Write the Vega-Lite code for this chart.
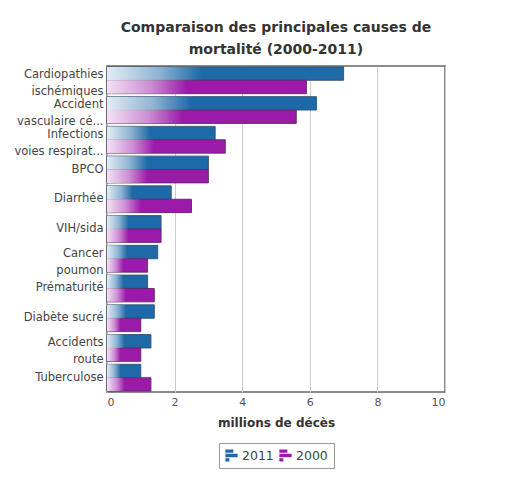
{
  "$schema": "https://vega.github.io/schema/vega-lite/v6.json",
  "width": 338,
  "height": 326,
  "padding": {"left": 13, "top": 21, "right": 5, "bottom": 5},
  "background": "white",
  "title": {
    "text": ["Comparaison des principales causes de", "mortalité (2000-2011)"],
    "font": "DejaVu Sans",
    "fontSize": 14,
    "fontWeight": "bold",
    "color": "#333333",
    "anchor": "middle",
    "lineHeight": 22,
    "offset": 9
  },
  "data": {
    "values": [
      {"cause": "Cardiopathies|ischémiques", "annee": "2011", "deces": 7.0},
      {"cause": "Cardiopathies|ischémiques", "annee": "2000", "deces": 5.9},
      {"cause": "Accident|vasculaire cé...", "annee": "2011", "deces": 6.2},
      {"cause": "Accident|vasculaire cé...", "annee": "2000", "deces": 5.6},
      {"cause": "Infections|voies respirat...", "annee": "2011", "deces": 3.2},
      {"cause": "Infections|voies respirat...", "annee": "2000", "deces": 3.5},
      {"cause": "BPCO", "annee": "2011", "deces": 3.0},
      {"cause": "BPCO", "annee": "2000", "deces": 3.0},
      {"cause": "Diarrhée", "annee": "2011", "deces": 1.9},
      {"cause": "Diarrhée", "annee": "2000", "deces": 2.5},
      {"cause": "VIH/sida", "annee": "2011", "deces": 1.6},
      {"cause": "VIH/sida", "annee": "2000", "deces": 1.6},
      {"cause": "Cancer|poumon", "annee": "2011", "deces": 1.5},
      {"cause": "Cancer|poumon", "annee": "2000", "deces": 1.2},
      {"cause": "Prématurité", "annee": "2011", "deces": 1.2},
      {"cause": "Prématurité", "annee": "2000", "deces": 1.4},
      {"cause": "Diabète sucré", "annee": "2011", "deces": 1.4},
      {"cause": "Diabète sucré", "annee": "2000", "deces": 1.0},
      {"cause": "Accidents|route", "annee": "2011", "deces": 1.3},
      {"cause": "Accidents|route", "annee": "2000", "deces": 1.0},
      {"cause": "Tuberculose", "annee": "2011", "deces": 1.0},
      {"cause": "Tuberculose", "annee": "2000", "deces": 1.3}
    ]
  },
  "encoding": {
    "y": {
      "field": "cause",
      "type": "nominal",
      "sort": null,
      "scale": {"paddingInner": 0.1, "paddingOuter": 0.03},
      "axis": {
        "title": null,
        "domain": false,
        "ticks": false,
        "labelExpr": "split(datum.label, '|')",
        "labelFontSize": 11.5,
        "labelColor": "#444444",
        "labelLineHeight": 17,
        "labelOffset": {"condition": {"test": "indexof(datum.value, '|') >= 0", "value": -5}, "value": 0},
        "labelPadding": 4,
        "labelLimit": 200
      }
    },
    "yOffset": {"field": "annee", "type": "nominal", "sort": ["2011", "2000"]},
    "x": {
      "field": "deces",
      "type": "quantitative",
      "scale": {"domain": [0, 10], "nice": false},
      "axis": {
        "title": "millions de décès",
        "titleFontSize": 12,
        "titleFontWeight": "bold",
        "titleColor": "#333333",
        "titlePadding": 10,
        "values": [0, 2, 4, 6, 8, 10],
        "format": "d",
        "labelFontSize": 11,
        "labelColor": "#555555",
        "labelPadding": 4,
        "ticks": false,
        "domain": false,
        "grid": true,
        "gridColor": "#cccccc",
        "gridWidth": 1
      }
    }
  },
  "layer": [
    {
      "mark": {"type": "bar", "strokeWidth": 1, "strokeOpacity": 0.9},
      "encoding": {
        "color": {
          "field": "annee",
          "type": "nominal",
          "sort": ["2011", "2000"],
          "scale": {"domain": ["2011", "2000"], "range": ["#1e69a8", "#9b1aaa"]},
          "legend": {
            "title": null,
            "orient": "none",
            "legendX": 112,
            "legendY": 377,
            "direction": "horizontal",
            "symbolType": "M-1,-1H0.3V-0.45H-1Z M-1,-0.28H1V0.28H-1Z M-1,0.45H-0.35V1H-1Z",
            "symbolSize": 150,
            "symbolStrokeWidth": 0,
            "labelFontSize": 12.5,
            "labelColor": "#444444",
            "labelOffset": 4,
            "strokeColor": "#999999",
            "fillColor": "white",
            "padding": 6,
            "columnPadding": 5
          }
        },
        "stroke": {
          "field": "annee",
          "type": "nominal",
          "scale": {"domain": ["2011", "2000"], "range": ["#35506b", "#5e2a66"]},
          "legend": null
        }
      }
    },
    {
      "mark": {
        "type": "bar",
        "color": {
          "gradient": "linear",
          "x1": 0, "y1": 0, "x2": 1, "y2": 0,
          "stops": [
            {"offset": 0, "color": "rgba(255,255,255,0.88)"},
            {"offset": 0.22, "color": "rgba(255,255,255,0.5)"},
            {"offset": 0.4, "color": "rgba(255,255,255,0)"}
          ]
        }
      }
    }
  ],
  "config": {
    "font": "DejaVu Sans",
    "view": {"stroke": "#666666", "strokeWidth": 1.5}
  }
}
